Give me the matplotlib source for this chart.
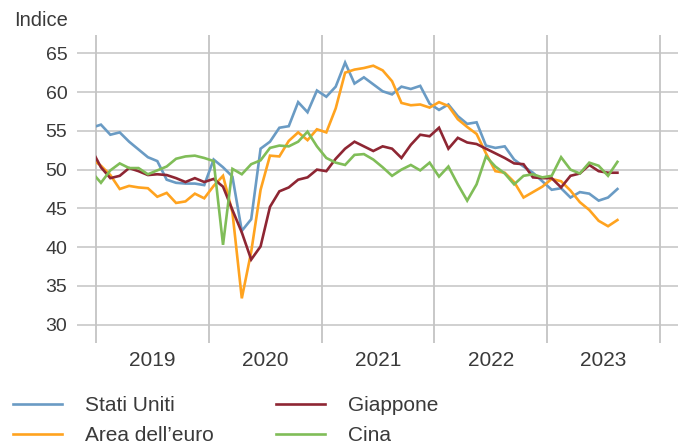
import matplotlib
matplotlib.use("Agg")
import matplotlib.pyplot as plt
import matplotlib.patches as mpatches
import numpy as np

plt.rcParams['font.family'] = ['Liberation Sans', 'DejaVu Sans']

# monthly values, Dec 2018 .. Aug 2023
stati_uniti = [55.4,
               55.8, 54.5, 54.8, 53.6, 52.6, 51.6, 51.1, 48.7, 48.3, 48.2, 48.2, 48.0,
               51.3, 50.3, 49.1, 42.1, 43.6, 52.7, 53.6, 55.4, 55.6, 58.7, 57.4, 60.2,
               59.4, 60.7, 63.8, 61.1, 61.9, 61.0, 60.1, 59.7, 60.7, 60.4, 60.8, 58.5,
               57.7, 58.4, 56.9, 55.9, 56.1, 53.1, 52.8, 53.0, 51.3, 50.4, 49.6, 48.5,
               47.4, 47.6, 46.4, 47.1, 46.9, 46.0, 46.4, 47.5]
area_euro = [51.4,
             50.5, 49.3, 47.5, 47.9, 47.7, 47.6, 46.5, 47.0, 45.7, 45.9, 46.9, 46.3,
             47.9, 49.2, 44.5, 33.4, 39.4, 47.4, 51.8, 51.7, 53.7, 54.8, 53.8, 55.2,
             54.8, 57.9, 62.5, 62.9, 63.1, 63.4, 62.8, 61.4, 58.6, 58.3, 58.4, 58.0,
             58.7, 58.2, 56.5, 55.5, 54.6, 52.1, 49.8, 49.6, 48.4, 46.4, 47.1, 47.8,
             48.8, 48.5, 47.3, 45.8, 44.8, 43.4, 42.7, 43.5]
giappone = [52.6,
            50.3, 48.9, 49.2, 50.2, 49.8, 49.3, 49.4, 49.3, 48.9, 48.4, 48.9, 48.4,
            48.8, 47.8, 44.8, 41.9, 38.4, 40.1, 45.2, 47.2, 47.7, 48.7, 49.0, 50.0,
            49.8, 51.4, 52.7, 53.6, 53.0, 52.4, 53.0, 52.7, 51.5, 53.2, 54.5, 54.3,
            55.4, 52.7, 54.1, 53.5, 53.3, 52.7, 52.1, 51.5, 50.8, 50.7, 49.0, 48.9,
            48.9, 47.7, 49.2, 49.5, 50.6, 49.8, 49.6, 49.6]
cina = [49.7,
        48.3, 49.9, 50.8, 50.2, 50.2, 49.4, 49.9, 50.4, 51.4, 51.7, 51.8, 51.5,
        51.1, 40.3, 50.1, 49.4, 50.7, 51.2, 52.8, 53.1, 53.0, 53.6, 54.9, 53.0,
        51.5, 50.9, 50.6, 51.9, 52.0, 51.3, 50.3, 49.2, 50.0, 50.6, 49.9, 50.9,
        49.1, 50.4, 48.1, 46.0, 48.1, 51.7, 50.4, 49.5, 48.1, 49.2, 49.4, 49.0,
        49.2, 51.6, 50.0, 49.5, 50.9, 50.5, 49.2, 51.0]

anni = ['2019', '2020', '2021', '2022', '2023']
serie = ['Stati Uniti', 'Area dell\u2019euro', 'Giappone', 'Cina']
colori = ['#6a9bc4', '#ffa31f', '#8e2633', '#80bd58']

# months since Jan 2019, points placed mid-month
mesi = np.arange(-1, len(stati_uniti) - 1) + 0.5

fig = plt.figure(figsize=(6.86, 4.46), dpi=100)
ax = fig.add_axes([77 / 686, 103 / 446, 601 / 686, 308 / 446])

ax.set_xlim(-2.05, 61.95)
ax.set_ylim(27.64, 67.36)

for y in range(30, 70, 5):
    ax.axhline(y, color='#c4c4c4', lw=1.1, zorder=0)
for x in range(0, 61, 12):
    ax.axvline(x, color='#c4c4c4', lw=1.3, zorder=0)

clip = mpatches.Rectangle((0, 0), 60, 100, transform=ax.transData,
                          fill=False, visible=False)
ax.add_patch(clip)

for valori, nome, c in zip([stati_uniti, area_euro, giappone, cina], serie, colori):
    line, = ax.plot(mesi, valori, color=c, lw=1.9, label=nome,
                    solid_joinstyle='miter')
    line.set_clip_path(clip)

for s in ax.spines.values():
    s.set_visible(False)

ax.set_yticks(range(30, 70, 5))
ax.set_xticks(np.arange(6, 60, 12))
ax.set_xticklabels(anni)
ax.tick_params(axis='both', length=0, labelsize=14, labelcolor='#3a3a3a')
ax.tick_params(axis='x', labelsize=15, pad=6)
ax.tick_params(axis='y', pad=7)

fig.text(14 / 686, 1 - 21 / 446, 'Indice', fontsize=14.5, color='#3a3a3a',
         va='center', ha='left')

fig.legend(loc='upper left', bbox_to_anchor=(13 / 686, 1 - 396 / 446),
           ncol=2, frameon=False, fontsize=15, handlelength=2.35,
           handletextpad=1.1, columnspacing=3.0, labelspacing=0.52,
           borderpad=0, borderaxespad=0, labelcolor='#3a3a3a')

fig.savefig('out.png', dpi=100)
